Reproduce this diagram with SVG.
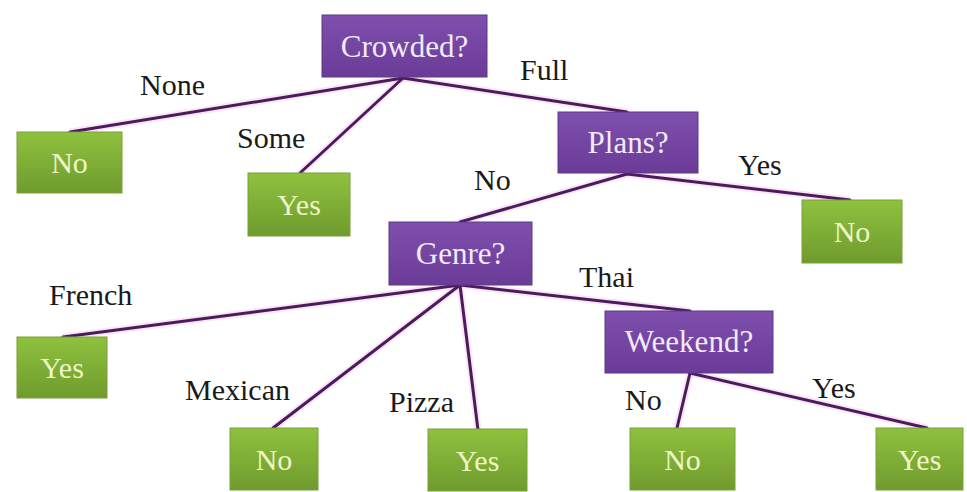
<svg xmlns="http://www.w3.org/2000/svg" width="967" height="492" viewBox="0 0 967 492" font-family="Liberation Serif, DejaVu Serif, serif">
<defs>
<linearGradient id="gp" x1="0" y1="0" x2="0" y2="1">
<stop offset="0" stop-color="#7e4fac"/>
<stop offset="1" stop-color="#6a3c98"/>
</linearGradient>
<linearGradient id="gg" x1="0" y1="0" x2="0" y2="1">
<stop offset="0" stop-color="#8fc13f"/>
<stop offset="1" stop-color="#6f9b2d"/>
</linearGradient>
<style>
.q rect{fill:url(#gp);stroke:#5b3a8a;stroke-width:1}
.a rect{fill:url(#gg);stroke:#7aa038;stroke-width:1}
.q text{fill:#f1eaf8;font-size:31px;text-anchor:middle}
.a text{fill:#eef6c6;font-size:30px;text-anchor:middle}
.lbl{fill:#1a1a1a;font-size:30px}
#edges line{stroke:#4b1c5c;stroke-width:3;stroke-linecap:round}
#glow line{stroke:#f2b8e8;stroke-width:7;opacity:0.35}
</style>
</defs>
<rect width="967" height="492" fill="#ffffff"/>
<g id="glow">
<line x1="403" y1="78" x2="70" y2="132"/>
<line x1="403" y1="78" x2="300" y2="173"/>
<line x1="403" y1="78" x2="627" y2="112"/>
<line x1="627" y1="174" x2="460" y2="222"/>
<line x1="627" y1="174" x2="850" y2="200"/>
<line x1="460" y1="285" x2="63" y2="337"/>
<line x1="460" y1="285" x2="273" y2="428"/>
<line x1="460" y1="285" x2="478" y2="430"/>
<line x1="460" y1="285" x2="690" y2="311"/>
<line x1="690" y1="373" x2="677" y2="428"/>
<line x1="690" y1="373" x2="927" y2="428"/>
</g>
<g id="edges">
<line x1="403" y1="78" x2="70" y2="132"/>
<line x1="403" y1="78" x2="300" y2="173"/>
<line x1="403" y1="78" x2="627" y2="112"/>
<line x1="627" y1="174" x2="460" y2="222"/>
<line x1="627" y1="174" x2="850" y2="200"/>
<line x1="460" y1="285" x2="63" y2="337"/>
<line x1="460" y1="285" x2="273" y2="428"/>
<line x1="460" y1="285" x2="478" y2="430"/>
<line x1="460" y1="285" x2="690" y2="311"/>
<line x1="690" y1="373" x2="677" y2="428"/>
<line x1="690" y1="373" x2="927" y2="428"/>
</g>
<g id="labels">
<text class="lbl" x="140" y="95">None</text>
<text class="lbl" x="237" y="148">Some</text>
<text class="lbl" x="520" y="80">Full</text>
<text class="lbl" x="474" y="190">No</text>
<text class="lbl" x="738" y="175">Yes</text>
<text class="lbl" x="49" y="305">French</text>
<text class="lbl" x="579" y="287">Thai</text>
<text class="lbl" x="185" y="400">Mexican</text>
<text class="lbl" x="389" y="412">Pizza</text>
<text class="lbl" x="625" y="410">No</text>
<text class="lbl" x="812" y="398">Yes</text>
</g>
<g id="crowded" class="q"><rect x="322" y="15" width="165" height="62"/><text x="404.5" y="57">Crowded?</text></g>
<g id="plans" class="q"><rect x="558" y="112" width="140" height="61"/><text x="628" y="153">Plans?</text></g>
<g id="genre" class="q"><rect x="389" y="222" width="143" height="63"/><text x="460.5" y="264">Genre?</text></g>
<g id="weekend" class="q"><rect x="605" y="311" width="168" height="62"/><text x="689" y="352">Weekend?</text></g>
<g id="no-none" class="a"><rect x="17" y="132" width="105" height="61"/><text x="69.5" y="173">No</text></g>
<g id="yes-some" class="a"><rect x="248" y="173" width="102" height="63"/><text x="299" y="215">Yes</text></g>
<g id="no-plans" class="a"><rect x="802" y="200" width="100" height="63"/><text x="852" y="242">No</text></g>
<g id="yes-french" class="a"><rect x="17" y="337" width="90" height="61"/><text x="62" y="378">Yes</text></g>
<g id="no-mexican" class="a"><rect x="230" y="428" width="88" height="62"/><text x="274" y="470">No</text></g>
<g id="yes-pizza" class="a"><rect x="428" y="429" width="99" height="62"/><text x="477.5" y="471">Yes</text></g>
<g id="no-weekend" class="a"><rect x="630" y="428" width="105" height="62"/><text x="682.5" y="470">No</text></g>
<g id="yes-weekend" class="a"><rect x="876" y="428" width="87" height="62"/><text x="919.5" y="470">Yes</text></g>
</svg>
